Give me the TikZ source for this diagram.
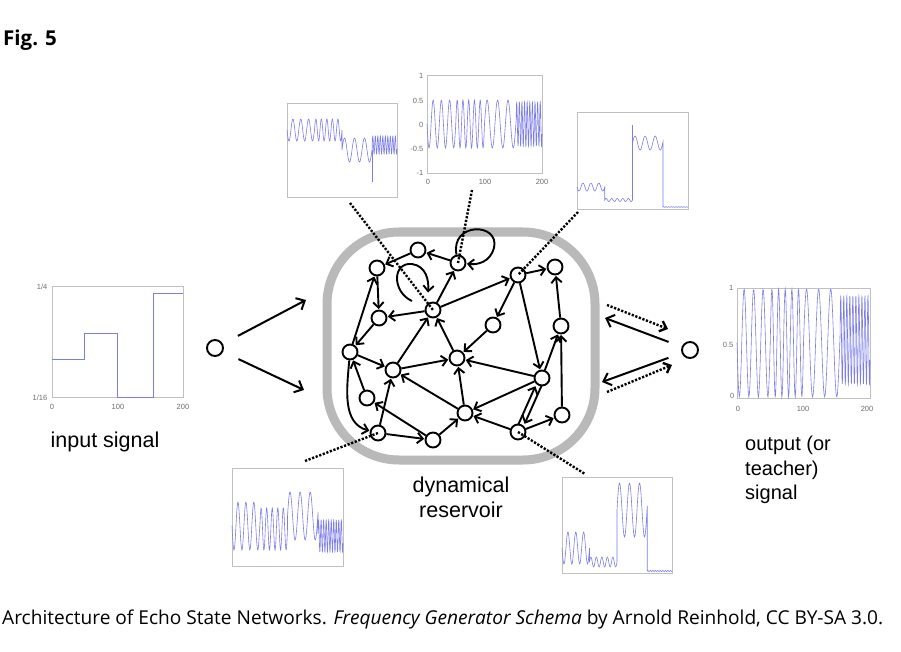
\documentclass[tikz,border=0pt]{standalone}
\usepackage{fontspec}
\setmainfont{Liberation Sans}
\newfontfamily\capfont{Open Sans}
\usetikzlibrary{arrows.meta}
\definecolor{sigblue}{RGB}{125,125,232}
\definecolor{boxgray}{RGB}{192,192,192}
\definecolor{blobgray}{RGB}{185,185,185}
\definecolor{labgray}{RGB}{110,110,110}
\newcommand\plotx[2]{\def\plX{#1}\def\plS{#2}}
\newcommand\sigplot[8]{%
 \draw[sig] plot[domain=0:50,samples=60] ({\plX+\plS*\x},{#1+#2*sin(360*0.07*\x)})
  -- plot[domain=50:100,samples=90] ({\plX+\plS*\x},{#3+#4*sin(360*(3.5+0.1*(\x-50)))})
  -- plot[domain=100:155,samples=70] ({\plX+\plS*\x},{#5+#6*sin(360*(8.5+0.055*(\x-100)))})
  -- plot[domain=155:200,samples=240] ({\plX+\plS*\x},{#7+#8*sin(360*(11.525+0.22*(\x-155)))});}
\begin{document}
\begin{tikzpicture}[x=1pt,y=-1pt,
 rn/.style={circle,draw,line width=1.9pt,minimum size=15pt,inner sep=0pt},
 arr/.style={line width=1.9pt,-{Straight Barb[length=5.5pt,width=10.5pt]},shorten >=0.5pt},
 bigarr/.style={line width=2pt,-{Straight Barb[length=7pt,width=13pt]}},
 dots/.style={line width=2.4pt,dash pattern=on 2.2pt off 1.6pt},
 frame/.style={draw=boxgray,line width=0.7pt},
 sig/.style={draw=sigblue,line width=0.6pt},
 tick/.style={font=\fontsize{7.5}{8}\selectfont,text=labgray,inner sep=0.5pt},
 lbl/.style={font=\fontsize{21.5}{25}\selectfont,inner sep=0pt},
 olbl/.style={font=\fontsize{20}{24.5}\selectfont,inner sep=0pt}]
\useasboundingbox (0,0) rectangle (901,652);
\fill[white] (0,0) rectangle (901,652);

% titles
\node[anchor=base west,inner sep=0pt,font=\capfont\bfseries\fontsize{20.5}{24}\selectfont] (fig) at (3,46) {Fig. 5};
\node[anchor=base west,inner sep=0pt,font=\capfont\fontsize{19.1}{22}\selectfont] (cap) at (2,624) {Architecture of Echo State Networks. \textit{Frequency Generator Schema} by Arnold Reinhold, CC BY-SA 3.0.};

% input plot
\draw[frame] (52,286) rectangle (183,397);
\draw[sig] (52,359) -- (84.7,359) -- (84.7,333) -- (117.5,333) -- (117.5,397) -- (153.5,397) -- (153.5,293) -- (183,293);
\node[tick,anchor=east] (i14) at (48,287) {1/4};
\node[tick,anchor=east] (i116) at (48,398) {1/16};
\node[tick] (ix0) at (52,407) {0};
\node[tick] (ix1) at (118,407) {100};
\node[tick] (ix2) at (183,407) {200};
\node[lbl,anchor=base] (intext) at (105,447) {input signal};

% output plot
\draw[frame] (737,288) rectangle (870,398);
\plotx{737}{0.665}
\sigplot{343}{54}{343}{54}{343}{54}{340}{44}
\node[tick,anchor=east] (o1) at (734,288) {1};
\node[tick,anchor=east] (o05) at (734,345) {0.5};
\node[tick,anchor=east] (o0) at (735,396) {0};
\node[tick] (ox0) at (738,409) {0};
\node[tick] (ox1) at (803,409) {100};
\node[tick] (ox2) at (867,409) {200};
\node[olbl,anchor=north west,align=left] (outtext) at (745,436) {output (or\\teacher)\\signal};

% top centre plot
\draw[frame] (427,75) rectangle (542,173);
\plotx{427}{0.575}
\sigplot{124}{24}{124}{24}{124}{24}{124}{22}
\node[tick,anchor=east] (t1) at (424,76) {1};
\node[tick,anchor=east] (t05) at (424,101) {0.5};
\node[tick,anchor=east] (t0) at (424,125) {0};
\node[tick,anchor=east] (tm05) at (424,149) {-0.5};
\node[tick,anchor=east] (tm1) at (424,173) {-1};
\node[tick] (tx0) at (428,182) {0};
\node[tick] (tx1) at (485,182) {100};
\node[tick] (tx2) at (542,182) {200};

% top left plot
\draw[frame] (287,103) rectangle (397,197);
\plotx{287}{0.55}
\sigplot{130}{11}{130}{11}{150}{12}{145}{9}
\draw[sig] (372.2,150) -- (372.2,182);

% top right plot
\draw[frame] (577,112) rectangle (688,209);
\plotx{577}{0.555}
\sigplot{187}{4}{200}{1.5}{143}{7}{207}{0.3}
\draw[sig] (632.5,200) -- (632.5,125);

% bottom left plot
\draw[frame] (232,468) rectangle (343,566);
\plotx{232}{0.555}
\sigplot{526}{24}{529}{21}{516}{24}{536}{16}

% bottom right plot
\draw[frame] (562,477) rectangle (672,573);
\plotx{562}{0.55}
\sigplot{548}{16}{562}{5}{510}{27}{571}{0.5}

% reservoir
\draw[blobgray,line width=9pt,rounded corners=72pt] (327,232) rectangle (595,460);
\node[lbl,anchor=north,align=center] (restext) at (461,477) {dynamical\\reservoir};

\node[rn] (n1) at (418,250) {};
\node[rn] (n2) at (377,268) {};
\node[rn] (n3) at (458,263) {};
\node[rn] (n4) at (518,275) {};
\node[rn] (n5) at (555,267) {};
\node[rn] (n6) at (433,310) {};
\node[rn] (n7) at (379,318) {};
\node[rn] (n8) at (493,325) {};
\node[rn] (n9) at (561,326) {};
\node[rn] (n10) at (350,352) {};
\node[rn] (n11) at (393,370) {};
\node[rn] (n12) at (457,358) {};
\node[rn] (n13) at (542,378) {};
\node[rn] (n14) at (367,398) {};
\node[rn] (n15) at (465,413) {};
\node[rn] (n16) at (562,415) {};
\node[rn] (n17) at (378,433) {};
\node[rn] (n18) at (433,440) {};
\node[rn] (n19) at (518,432) {};

\draw[arr] (n1) -- (n2);
\draw[arr] (n3) -- (n1);
\draw[arr] (n6) -- (n3);
\draw[arr] (n6) -- (n4);
\draw[arr] (n6) -- (n7);
\draw[arr] (n11) -- (n6);
\draw[arr] (n2) -- (n7);
\draw[arr] (n10) -- (n2);
\draw[arr] (n7) -- (n10);
\draw[arr] (n10) -- (n11);
\draw[arr] (n14) -- (n10);
\draw[arr] (n10) to[out=-95,in=165] (n17);
\draw[arr] (n11) -- (n12);
\draw[arr] (n17) -- (n11);
\draw[arr] (n18) -- (n14);
\draw[arr] (n15) -- (n11);
\draw[arr] (n17) -- (n18);
\draw[arr] (n18) -- (n15);
\draw[arr] (n15) -- (n12);
\draw[arr] (n19) -- (n15);
\draw[arr] (n13) -- (n15);
\draw[arr] (n13) -- (n12);
\draw[arr] (n8) -- (n12);
\draw[arr] (n12) -- (n6);
\draw[arr] (n4) -- (n8);
\draw[arr] (n4) -- (n13);
\draw[arr] (n4) -- (n5);
\draw[arr] (n9) -- (n5);
\draw[arr] (n13) -- (n9);
\draw[arr] (n16) -- (n9);
\draw[arr,transform canvas={xshift=-3pt}] (n19) -- (n13);
\draw[arr,transform canvas={xshift=3pt}] (n13) -- (n19);
\draw[arr] (n19) -- (n16);

% self loops
\draw[arr] (n3.100) .. controls (450,222) and (500,222) .. (494,248) .. controls (490,262) and (478,265) .. (n3.-5);
\coordinate (l6s) at (412,301);
\coordinate (l6e) at (428,293);
\draw[arr] (l6s) .. controls (392,292) and (392,262) .. (412,264) .. controls (426,266) and (429,280) .. (l6e);

% dotted read-out lines
\coordinate (tlp) at (350,203);
\coordinate (tcp) at (472,190);
\coordinate (trp) at (578,212);
\coordinate (blp) at (305,461);
\coordinate (brp) at (585,474);
\draw[dots] (tlp) -- (n6.center);
\draw[dots] (tcp) -- (n3.center);
\draw[dots] (trp) -- (n4.center);
\draw[dots] (blp) -- (n17.center);
\draw[dots] (n19.center) -- (brp);

% input / output units
\node[rn,minimum size=16pt] (in) at (215,348) {};
\node[rn,minimum size=16pt] (out) at (690,350) {};
\coordinate (ia1) at (306,300);
\coordinate (ia2) at (304,390);
\draw[bigarr,shorten <=17pt] (in) -- (ia1);
\draw[bigarr,shorten <=17pt] (in) -- (ia2);
\coordinate (oa1) at (605,318);
\coordinate (oa2) at (602,382);
\draw[bigarr,shorten <=14pt] (out) -- (oa1);
\draw[bigarr,shorten <=14pt] (out) -- (oa2);
\coordinate (od1s) at (607,305);
\coordinate (od1e) at (668,329);
\coordinate (od2s) at (607,392);
\coordinate (od2e) at (672,365);
\draw[dots,-{Straight Barb[length=6pt,width=11pt]}] (od1s) -- (od1e);
\draw[dots,-{Straight Barb[length=6pt,width=11pt]}] (od2s) -- (od2e);
\end{tikzpicture}
\end{document}
